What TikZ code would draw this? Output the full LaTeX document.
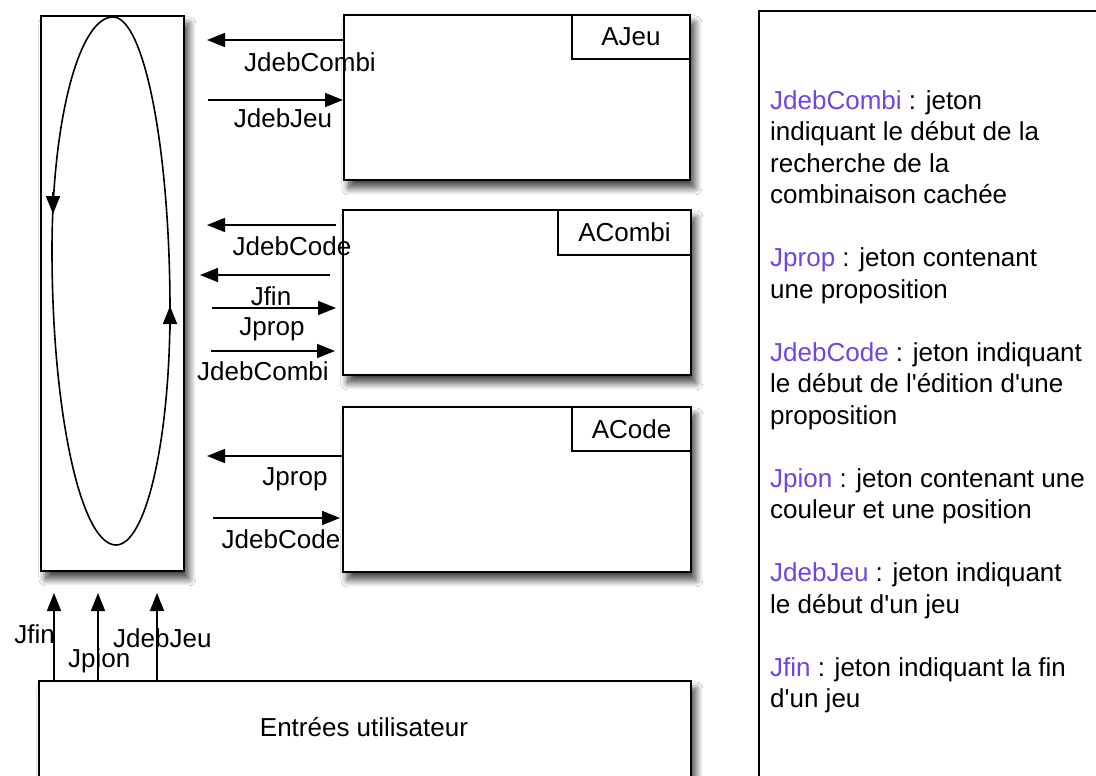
\documentclass[tikz,border=0pt]{standalone}
\usepackage{fontspec}
\newfontfamily\lib{Liberation Sans}
\usetikzlibrary{arrows.meta,shadows.blur}
\definecolor{tok}{RGB}{110,70,225}
\begin{document}
\begin{tikzpicture}[x=1pt,y=-1pt,
  font=\lib\fontsize{26}{31.5}\selectfont,
  box/.style={draw, line width=1.8pt, fill=white, inner sep=0pt,
    anchor=north west,
    blur shadow={shadow xshift=5pt, shadow yshift=-8pt, shadow blur radius=7pt, shadow opacity=75, shadow blur steps=12}},
  plainbox/.style={draw, line width=1.8pt, fill=white, inner sep=0pt, anchor=north west},
  tag/.style={draw, line width=1.6pt, fill=white, inner sep=0pt, anchor=north east},
  arr/.style={line width=1.6pt, -{Triangle[length=18pt,width=14pt]}},
  lbl/.style={anchor=base, inner sep=0pt}]
\useasboundingbox (0,0) rectangle (1096,776);
\clip (0,0) rectangle (1096,776);
\fill[white] (0,0) rectangle (1096,776);

% boxes
\node[box, minimum width=143pt, minimum height=555pt] (ring) at (40,15) {};
\node[box, minimum width=346pt, minimum height=165pt] (ajeu) at (343,14) {};
\node[tag, minimum width=118pt, minimum height=44pt] (ajeutag) at (ajeu.north east) {AJeu};
\node[box, minimum width=348pt, minimum height=165pt] (acombi) at (342,209) {};
\node[tag, minimum width=133pt, minimum height=45pt] (acombitag) at (acombi.north east) {ACombi};
\node[box, minimum width=348pt, minimum height=165pt] (acode) at (342,406) {};
\node[tag, minimum width=119pt, minimum height=44pt] (acodetag) at (acode.north east) {ACode};
\node[box, minimum width=652pt, minimum height=130pt] (entrees) at (38,680) {};
\node[lbl] (entreestxt) at (364,736) {Entrées utilisateur};
\node[plainbox, minimum width=360pt, minimum height=800pt] (legend) at (758,10) {};

% loop inside the ring
\coordinate (ltop) at (113,17);
\coordinate (lleft) at (52,250);
\coordinate (lbot) at (116,545);
\coordinate (lright) at (170,310);
\draw[line width=1.6pt] (ltop) .. controls (79,17) and (52,121) .. (lleft)
  .. controls (52,413) and (81,545) .. (lbot)
  .. controls (146,545) and (170,440) .. (lright)
  .. controls (170,148) and (144,17) .. (ltop);
\coordinate (lp1) at (53,192);
\coordinate (lp2) at (53,214);
\draw[arr] (lp1) -- (lp2);
\coordinate (rp1) at (170,330);
\coordinate (rp2) at (170,306);
\draw[arr] (rp1) -- (rp2);

% labels
\node[lbl] (l1) at (310,72) {JdebCombi};
\node[lbl] (l2) at (283,128) {JdebJeu};
\node[lbl] (l3) at (292,255) {JdebCode};
\node[lbl] (l4) at (271,305) {Jfin};
\node[lbl] (l5) at (272,335) {Jprop};
\node[lbl] (l6) at (263,380) {JdebCombi};
\node[lbl] (l7) at (295,485) {Jprop};
\node[lbl] (l8) at (281,548) {JdebCode};
\node[anchor=base east, inner sep=0pt] (b1) at (55,643) {Jfin};
\node[anchor=base west, inner sep=0pt] (b2) at (68,667) {Jpion};
\node[anchor=base west, inner sep=0pt] (b3) at (113,647) {JdebJeu};

% arrows AJeu
\coordinate (t1) at (207,40);
\draw[arr] (ajeu.west |- t1) -- (t1);
\coordinate (s2) at (208,100);
\draw[arr] (s2) -- (ajeu.west |- s2);
% arrows ACombi
\coordinate (s3) at (336,225);
\coordinate (t3) at (207,225);
\draw[arr] (s3) -- (t3);
\coordinate (s4) at (330,275);
\coordinate (t4) at (200,275);
\draw[arr] (s4) -- (t4);
\coordinate (s5) at (212,308);
\coordinate (e5) at (336,308);
\draw[arr] (s5) -- (e5);
\coordinate (s6) at (211,351);
\coordinate (e6) at (335,351);
\draw[arr] (s6) -- (e6);
% arrows ACode
\coordinate (t7) at (207,456);
\draw[arr] (acode.west |- t7) -- (t7);
\coordinate (s8) at (213,518);
\coordinate (e8) at (340,518);
\draw[arr] (s8) -- (e8);
% arrows from Entrees
\coordinate (u1) at (54,593);
\coordinate (u2) at (98,593);
\coordinate (u3) at (157,593);
\draw[arr] (entrees.north -| u1) -- (u1);
\draw[arr] (entrees.north -| u2) -- (u2);
\draw[arr] (entrees.north -| u3) -- (u3);

% legend text
\node[anchor=north west, inner sep=0pt, align=left] (legtext) at (770,90) {%
\textcolor{tok}{JdebCombi} : jeton\\
indiquant le début de la\\
recherche de la\\
combinaison cachée\\[31.5pt]
\textcolor{tok}{Jprop} : jeton contenant\\
une proposition\\[31.5pt]
\textcolor{tok}{JdebCode} : jeton indiquant\\
le début de l'édition d'une\\
proposition\\[31.5pt]
\textcolor{tok}{Jpion} : jeton contenant une\\
couleur et une position\\[31.5pt]
\textcolor{tok}{JdebJeu} : jeton indiquant\\
le début d'un jeu\\[31.5pt]
\textcolor{tok}{Jfin} : jeton indiquant la fin\\
d'un jeu};
\end{tikzpicture}
\end{document}
